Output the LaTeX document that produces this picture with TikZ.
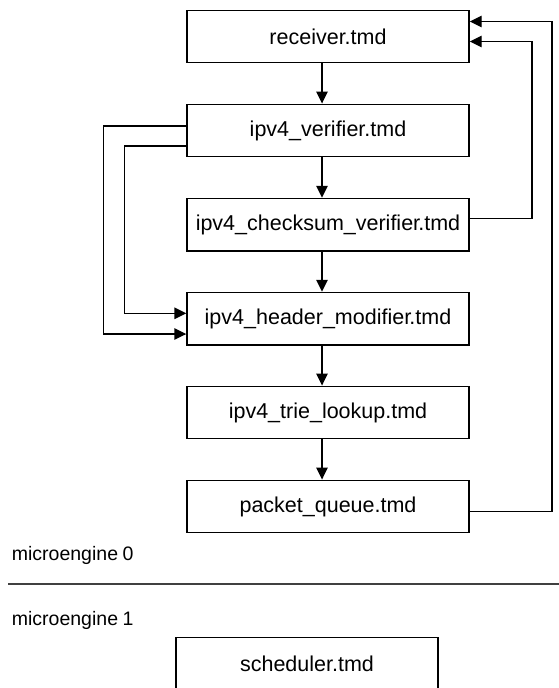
\documentclass[tikz,border=0pt]{standalone}
\usepackage{fontspec}
\setmainfont{Liberation Sans}
\usetikzlibrary{arrows.meta,calc}

\tikzset{
  stage/.style={draw, line width=1.4pt, minimum width=282pt, minimum height=52.5pt,
    inner sep=0pt, font=\fontsize{21.5}{25}\selectfont},
  flow/.style={line width=1.4pt, -{Triangle[length=12pt,width=11.5pt]}},
  lane/.style={font=\fontsize{19.5}{23}\selectfont, anchor=base west, inner sep=0pt},
}

\begin{document}
\begin{tikzpicture}[x=1pt,y=-1pt]
  \useasboundingbox (0,0) rectangle (559,688);
  \clip (0,0) rectangle (559,688);

  % pipeline stages on microengine 0
  \node[stage] (rcv) at (328,36.5)  {receiver.tmd};
  \node[stage] (ver) at (328,130.5) {ipv4\_verifier.tmd};
  \node[stage] (chk) at (328,224.7) {ipv4\_checksum\_verifier\kern-2pt.tmd};
  \node[stage] (hdr) at (328,318.7) {ipv4\_header\_modifier\kern-2pt.tmd};
  \node[stage] (tri) at (328,412.5) {ipv4\_trie\_lookup.tmd};
  \node[stage] (pkq) at (328,506.5) {packet\_queue.tmd};

  % straight-down flow
  \foreach \a/\b in {rcv/ver, ver/chk, chk/hdr, hdr/tri, tri/pkq}
    \draw[flow] ([xshift=-6pt]\a.south) -- ([xshift=-6pt]\b.north);

  % feedback to the receiver on the right
  \coordinate (rOut) at (552,0);
  \coordinate (rIn)  at (532,0);
  \coordinate (rcvA) at ([yshift=15pt]rcv.east);
  \coordinate (rcvB) at ([yshift=-5pt]rcv.east);
  \coordinate (pkqO) at ([yshift=-5pt]pkq.east);
  \coordinate (chkO) at ([yshift=6.4pt]chk.east);
  \draw[flow] (pkqO) -| (rOut |- rcvA) -- (rcvA);
  \draw[flow] (chkO) -| (rIn |- rcvB) -- (rcvB);

  % bypass paths on the left
  \coordinate (lOut) at (103.3,0);
  \coordinate (lIn)  at (124.3,0);
  \coordinate (verA) at ([yshift=4.5pt]ver.west);
  \coordinate (verB) at ([yshift=-15.5pt]ver.west);
  \coordinate (hdrA) at ([yshift=5.4pt]hdr.west);
  \coordinate (hdrB) at ([yshift=-15.3pt]hdr.west);
  \draw[flow] (verA) -| (lOut |- hdrB) -- (hdrB);
  \draw[flow] (verB) -| (lIn |- hdrA) -- (hdrA);

  % microengine partition
  \node[lane] (me0) at (11.7,560.7) {microengine\kern-1pt\ 0};
  \coordinate (sepL) at (8,584.3);
  \coordinate (sepR) at (559,584.3);
  \draw[line width=2pt, black!75] (sepL) -- (sepR);
  \node[lane] (me1) at (11.7,625.7) {microengine\kern-1pt\ 1};

  \node[stage, minimum width=262pt, minimum height=53pt] (sch) at (307,664) {scheduler.tmd};
\end{tikzpicture}
\end{document}
